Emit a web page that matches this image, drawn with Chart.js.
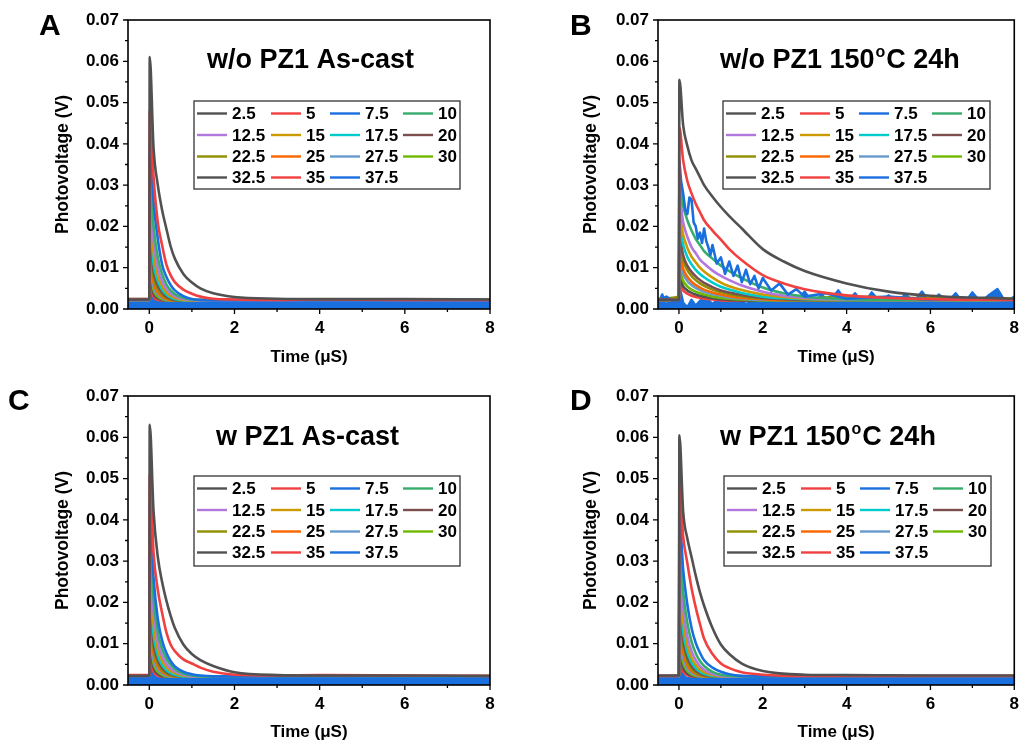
<!DOCTYPE html>
<html>
<head>
<meta charset="utf-8">
<script src="https://cdn.jsdelivr.net/npm/chart.js@4.4.1/dist/chart.umd.min.js"></script>
<style>
  body { margin: 0; background: #fff; }
  #wrap { position: relative; width: 1028px; height: 746px; overflow: hidden; }
  canvas { position: absolute; }
</style>
</head>
<body>
<div id="wrap">
  <canvas id="cA" width="514" height="373" style="left:0;top:0"></canvas>
  <canvas id="cB" width="514" height="373" style="left:514px;top:0"></canvas>
  <canvas id="cC" width="514" height="373" style="left:0;top:373px"></canvas>
  <canvas id="cD" width="514" height="373" style="left:514px;top:373px"></canvas>
</div>
<script>
'use strict';

// ---- data ----
const seriesNames = ['2.5', '5', '7.5', '10', '12.5', '15', '17.5', '20', '22.5', '25', '27.5', '30', '32.5', '35', '37.5'];
const xTicks = [0, 2, 4, 6, 8];
const xMinor = [1, 3, 5, 7];
const yTicks = [0, 0.01, 0.02, 0.03, 0.04, 0.05, 0.06, 0.07];
const yMinor = [0.005, 0.015, 0.025, 0.035, 0.045, 0.055, 0.065];

// time samples (µs) for the fast panels A, C, D
const timeFast = [-0.5, 0, 0.01, 0.1, 0.2, 0.3, 0.4, 0.5, 0.6, 0.8, 1.0, 1.2, 1.5, 2, 3, 4, 6, 8];
// time samples for the slower panel B
const timeSlow = [-0.5, 0, 0.01, 0.1, 0.2, 0.3, 0.4, 0.5, 0.6, 0.8, 1.0, 1.2, 1.5, 2, 2.5, 3, 4, 5, 6, 8];
// noisy traces in panel B have their own samples
const timeB75 = [-0.5, -0.3, -0.1, 0, 0.01, 0.05, 0.1, 0.15, 0.2, 0.25, 0.3, 0.35, 0.4, 0.45, 0.5, 0.55, 0.6, 0.65, 0.7, 0.75, 0.8, 0.9, 1.0, 1.1, 1.2, 1.3, 1.4, 1.5, 1.6, 1.7, 1.8, 1.9, 2.0, 2.2, 2.4, 2.6, 2.8, 3.0, 3.5, 4, 5, 6, 7, 8];
const timeB375 = [-0.5, -0.4, -0.3, -0.2, -0.1, 0, 0.02, 0.1, 0.2, 0.3, 0.4, 0.6, 0.8, 1.0, 1.2, 1.4, 1.6, 1.8, 2.0, 2.2, 2.4, 2.6, 2.8, 3.0, 3.2, 3.4, 3.6, 3.8, 4.0, 4.2, 4.4, 4.6, 4.8, 5.0, 5.2, 5.4, 5.6, 5.8, 6.0, 6.2, 6.4, 6.6, 6.8, 7.0, 7.2, 7.4, 7.6, 7.8, 8.0];

// A: w/o PZ1 As-cast
const valuesA = [
  [0.0023, 0.0023, 0.061, 0.039, 0.030, 0.024, 0.0195, 0.0152, 0.0122, 0.0085, 0.0064, 0.0050, 0.0038, 0.0029, 0.0025, 0.0024, 0.0024, 0.0023],
  [0.0024, 0.0024, 0.048, 0.032, 0.021, 0.0155, 0.0108, 0.0082, 0.0065, 0.0047, 0.0037, 0.0030, 0.0025, 0.0023, 0.0022, 0.0023, 0.0022, 0.0022],
  [0.0022, 0.0022, 0.040, 0.026, 0.017, 0.0108, 0.0078, 0.0058, 0.0045, 0.0031, 0.0024, 0.0022, 0.0021, 0.0021, 0.0021, 0.0021, 0.0021, 0.0021],
  [0.0024, 0.0024, 0.033, 0.020, 0.0125, 0.0085, 0.0060, 0.0045, 0.0036, 0.0027, 0.0023, 0.0022, 0.0022, 0.0023, 0.0023, 0.0023, 0.0023, 0.0023],
  [0.0022, 0.0022, 0.029, 0.0165, 0.0100, 0.0068, 0.0049, 0.0038, 0.0031, 0.0024, 0.0022, 0.0021, 0.0021, 0.0021, 0.0021, 0.0021, 0.0021, 0.0021],
  [0.0022, 0.0022, 0.025, 0.0135, 0.0082, 0.0056, 0.0041, 0.0032, 0.0027, 0.0022, 0.0021, 0.0021, 0.0021, 0.0021, 0.0021, 0.0021, 0.0021, 0.0021],
  [0.0022, 0.0022, 0.022, 0.0110, 0.0068, 0.0047, 0.0035, 0.0028, 0.0024, 0.0021, 0.0021, 0.0021, 0.0021, 0.0021, 0.0021, 0.0021, 0.0021, 0.0021],
  [0.0022, 0.0022, 0.019, 0.0092, 0.0057, 0.0040, 0.0030, 0.0025, 0.0022, 0.0021, 0.0021, 0.0021, 0.0021, 0.0021, 0.0021, 0.0021, 0.0021, 0.0021],
  [0.0022, 0.0022, 0.017, 0.0078, 0.0048, 0.0034, 0.0027, 0.0023, 0.0021, 0.0021, 0.0021, 0.0021, 0.0021, 0.0021, 0.0021, 0.0021, 0.0021, 0.0021],
  [0.0022, 0.0022, 0.014, 0.0064, 0.0040, 0.0030, 0.0024, 0.0021, 0.0021, 0.0021, 0.0021, 0.0021, 0.0021, 0.0021, 0.0021, 0.0021, 0.0021, 0.0021],
  [0.0022, 0.0022, 0.0125, 0.0055, 0.0035, 0.0027, 0.0022, 0.0021, 0.0021, 0.0021, 0.0021, 0.0021, 0.0021, 0.0021, 0.0021, 0.0021, 0.0021, 0.0021],
  [0.0022, 0.0022, 0.0105, 0.0046, 0.0030, 0.0024, 0.0021, 0.0021, 0.0021, 0.0021, 0.0021, 0.0021, 0.0021, 0.0021, 0.0021, 0.0021, 0.0021, 0.0021],
  [0.0022, 0.0022, 0.0085, 0.0038, 0.0026, 0.0022, 0.0021, 0.0021, 0.0021, 0.0021, 0.0021, 0.0021, 0.0021, 0.0021, 0.0021, 0.0021, 0.0021, 0.0021],
  [0.0022, 0.0022, 0.0065, 0.0030, 0.0022, 0.0021, 0.0021, 0.0021, 0.0021, 0.0021, 0.0021, 0.0021, 0.0021, 0.0021, 0.0021, 0.0021, 0.0021, 0.0021],
  [0.0020, 0.0020, 0.0048, 0.0025, 0.0020, 0.0020, 0.0020, 0.0020, 0.0020, 0.0020, 0.0020, 0.0020, 0.0020, 0.0020, 0.0020, 0.0020, 0.0020, 0.0020]
];

// B: w/o PZ1 150oC 24h (series 7.5 and 37.5 listed separately below)
const valuesB = [
  [0.0022, 0.0022, 0.0555, 0.0445, 0.0395, 0.0360, 0.0340, 0.0320, 0.0300, 0.0272, 0.0247, 0.0225, 0.0195, 0.0145, 0.0115, 0.0092, 0.0062, 0.0042, 0.0032, 0.0025],
  [0.0022, 0.0022, 0.044, 0.036, 0.031, 0.028, 0.0255, 0.0235, 0.0215, 0.019, 0.0168, 0.0145, 0.0118, 0.0082, 0.0062, 0.0048, 0.0033, 0.0027, 0.0024, 0.0022],
  null,
  [0.0022, 0.0022, 0.0305, 0.025, 0.0215, 0.019, 0.017, 0.0155, 0.014, 0.0122, 0.0105, 0.0092, 0.0075, 0.0052, 0.0038, 0.0030, 0.0024, 0.0022, 0.0022, 0.0022],
  [0.0022, 0.0022, 0.027, 0.021, 0.0175, 0.015, 0.0135, 0.012, 0.011, 0.0093, 0.008, 0.007, 0.0057, 0.0042, 0.0032, 0.0027, 0.0023, 0.0022, 0.0022, 0.0022],
  [0.0022, 0.0022, 0.023, 0.018, 0.0148, 0.0127, 0.0113, 0.010, 0.0091, 0.0076, 0.0064, 0.0055, 0.0046, 0.0035, 0.0029, 0.0025, 0.0023, 0.0022, 0.0022, 0.0022],
  [0.0022, 0.0022, 0.020, 0.0155, 0.0126, 0.0108, 0.0095, 0.0085, 0.0077, 0.0064, 0.0054, 0.0047, 0.0039, 0.0030, 0.0026, 0.0024, 0.0022, 0.0022, 0.0022, 0.0022],
  [0.0022, 0.0022, 0.0175, 0.013, 0.0105, 0.009, 0.0079, 0.007, 0.0063, 0.0053, 0.0045, 0.004, 0.0034, 0.0027, 0.0024, 0.0022, 0.0022, 0.0022, 0.0022, 0.0022],
  [0.0025, 0.0030, 0.016, 0.0118, 0.0094, 0.008, 0.007, 0.0062, 0.0056, 0.0047, 0.0041, 0.0036, 0.0031, 0.0026, 0.0028, 0.0025, 0.0030, 0.0028, 0.0026, 0.0025],
  [0.0022, 0.0022, 0.0135, 0.0098, 0.0078, 0.0066, 0.0058, 0.0052, 0.0047, 0.004, 0.0035, 0.0031, 0.0027, 0.0024, 0.0022, 0.0022, 0.0022, 0.0022, 0.0022, 0.0022],
  [0.0022, 0.0022, 0.012, 0.0086, 0.0068, 0.0058, 0.0051, 0.0046, 0.0042, 0.0036, 0.0032, 0.0028, 0.0025, 0.0022, 0.0022, 0.0022, 0.0022, 0.0022, 0.0022, 0.0022],
  [0.0022, 0.0022, 0.0095, 0.0068, 0.0055, 0.0047, 0.0042, 0.0038, 0.0035, 0.003, 0.0027, 0.0025, 0.0023, 0.0021, 0.0021, 0.0021, 0.0021, 0.0021, 0.0021, 0.0021],
  [0.0021, 0.0021, 0.0075, 0.0055, 0.0045, 0.0039, 0.0035, 0.0032, 0.003, 0.0026, 0.0024, 0.0022, 0.0021, 0.002, 0.002, 0.002, 0.002, 0.002, 0.002, 0.002],
  [0.0021, 0.0021, 0.0062, 0.0045, 0.0037, 0.0032, 0.0029, 0.0027, 0.0025, 0.0023, 0.0021, 0.002, 0.002, 0.002, 0.002, 0.002, 0.002, 0.002, 0.002, 0.002],
  null
];
const valuesB75 = [0.002, 0.003, 0.0015, 0.002, 0.036, 0.031, 0.028, 0.024, 0.023, 0.027, 0.0265, 0.021, 0.020, 0.017, 0.0185, 0.016, 0.0195, 0.0165, 0.015, 0.013, 0.0155, 0.011, 0.0125, 0.0085, 0.0115, 0.008, 0.0105, 0.0065, 0.0095, 0.006, 0.008, 0.005, 0.0075, 0.0045, 0.0062, 0.0035, 0.0048, 0.003, 0.0038, 0.0025, 0.003, 0.0022, 0.0025, 0.002];
const valuesB375 = [0.001, 0.0035, 0.0008, 0.0025, 0.0012, 0.0015, 0.005, 0.0015, 0.0004, 0.0022, 0.0008, 0.003, 0.0012, 0.0028, 0.0015, 0.0035, 0.001, 0.0032, 0.0014, 0.0038, 0.0012, 0.003, 0.0016, 0.0042, 0.0012, 0.0034, 0.0018, 0.0045, 0.0015, 0.0038, 0.0012, 0.004, 0.0016, 0.0033, 0.0012, 0.0036, 0.0017, 0.0042, 0.0013, 0.0035, 0.0015, 0.0038, 0.0012, 0.004, 0.0016, 0.0034, 0.0048, 0.0015, 0.003];

// C: w PZ1 As-cast
const valuesC = [
  [0.0022, 0.0022, 0.063, 0.042, 0.031, 0.025, 0.0205, 0.0168, 0.0138, 0.0098, 0.0075, 0.0060, 0.0046, 0.0031, 0.0024, 0.0023, 0.0023, 0.0022],
  [0.0024, 0.0024, 0.051, 0.032, 0.023, 0.0175, 0.0128, 0.0098, 0.0082, 0.0062, 0.0052, 0.0042, 0.0032, 0.0025, 0.0023, 0.0024, 0.0023, 0.0022],
  [0.0021, 0.0021, 0.044, 0.026, 0.016, 0.0108, 0.0078, 0.0058, 0.0045, 0.0032, 0.0026, 0.0023, 0.0021, 0.0021, 0.0021, 0.0021, 0.0021, 0.0021],
  [0.0022, 0.0022, 0.0365, 0.021, 0.0128, 0.0088, 0.0064, 0.0049, 0.0039, 0.0028, 0.0023, 0.0021, 0.0021, 0.0021, 0.0021, 0.0021, 0.0021, 0.0021],
  [0.0021, 0.0021, 0.032, 0.0175, 0.0105, 0.0071, 0.0052, 0.0040, 0.0033, 0.0025, 0.0021, 0.0021, 0.0021, 0.0021, 0.0021, 0.0021, 0.0021, 0.0021],
  [0.0021, 0.0021, 0.0275, 0.0145, 0.0087, 0.0059, 0.0044, 0.0034, 0.0029, 0.0023, 0.0021, 0.0021, 0.0021, 0.0021, 0.0021, 0.0021, 0.0021, 0.0021],
  [0.0021, 0.0021, 0.024, 0.0122, 0.0072, 0.0049, 0.0036, 0.0029, 0.0025, 0.0021, 0.0021, 0.0021, 0.0021, 0.0021, 0.0021, 0.0021, 0.0021, 0.0021],
  [0.0021, 0.0021, 0.0215, 0.0103, 0.0061, 0.0042, 0.0032, 0.0026, 0.0023, 0.0021, 0.0021, 0.0021, 0.0021, 0.0021, 0.0021, 0.0021, 0.0021, 0.0021],
  [0.0021, 0.0021, 0.019, 0.0088, 0.0052, 0.0036, 0.0028, 0.0024, 0.0021, 0.0021, 0.0021, 0.0021, 0.0021, 0.0021, 0.0021, 0.0021, 0.0021, 0.0021],
  [0.0021, 0.0021, 0.0165, 0.0075, 0.0045, 0.0032, 0.0026, 0.0022, 0.0021, 0.0021, 0.0021, 0.0021, 0.0021, 0.0021, 0.0021, 0.0021, 0.0021, 0.0021],
  [0.0021, 0.0021, 0.0138, 0.0062, 0.0038, 0.0028, 0.0023, 0.0021, 0.0021, 0.0021, 0.0021, 0.0021, 0.0021, 0.0021, 0.0021, 0.0021, 0.0021, 0.0021],
  [0.0021, 0.0021, 0.0115, 0.0052, 0.0032, 0.0025, 0.0021, 0.0021, 0.0021, 0.0021, 0.0021, 0.0021, 0.0021, 0.0021, 0.0021, 0.0021, 0.0021, 0.0021],
  [0.0021, 0.0021, 0.0090, 0.0042, 0.0027, 0.0022, 0.0021, 0.0021, 0.0021, 0.0021, 0.0021, 0.0021, 0.0021, 0.0021, 0.0021, 0.0021, 0.0021, 0.0021],
  [0.0021, 0.0021, 0.0068, 0.0032, 0.0023, 0.0021, 0.0021, 0.0021, 0.0021, 0.0021, 0.0021, 0.0021, 0.0021, 0.0021, 0.0021, 0.0021, 0.0021, 0.0021],
  [0.0017, 0.0017, 0.0050, 0.0025, 0.0017, 0.0017, 0.0017, 0.0017, 0.0017, 0.0017, 0.0017, 0.0017, 0.0017, 0.0017, 0.0017, 0.0017, 0.0017, 0.0017]
];

// D: w PZ1 150oC 24h
const valuesD = [
  [0.0023, 0.0023, 0.0605, 0.042, 0.0355, 0.031, 0.0265, 0.0225, 0.0192, 0.0138, 0.0098, 0.0075, 0.0052, 0.0034, 0.0025, 0.0024, 0.0023, 0.0023],
  [0.0022, 0.0022, 0.0485, 0.036, 0.0295, 0.0235, 0.0188, 0.0148, 0.0112, 0.0075, 0.0052, 0.0041, 0.0031, 0.0025, 0.0022, 0.0022, 0.0022, 0.0022],
  [0.0021, 0.0021, 0.041, 0.028, 0.0195, 0.0138, 0.0102, 0.0078, 0.0060, 0.0042, 0.0032, 0.0026, 0.0022, 0.0021, 0.0021, 0.0021, 0.0021, 0.0021],
  [0.0021, 0.0021, 0.0345, 0.0225, 0.015, 0.0105, 0.0077, 0.0058, 0.0046, 0.0032, 0.0025, 0.0022, 0.0021, 0.0021, 0.0021, 0.0021, 0.0021, 0.0021],
  [0.0021, 0.0021, 0.0295, 0.0185, 0.0118, 0.0082, 0.0060, 0.0046, 0.0037, 0.0027, 0.0022, 0.0021, 0.0021, 0.0021, 0.0021, 0.0021, 0.0021, 0.0021],
  [0.0021, 0.0021, 0.0265, 0.0155, 0.0097, 0.0066, 0.0049, 0.0038, 0.0031, 0.0024, 0.0021, 0.0021, 0.0021, 0.0021, 0.0021, 0.0021, 0.0021, 0.0021],
  [0.0021, 0.0021, 0.0235, 0.0130, 0.0080, 0.0055, 0.0041, 0.0032, 0.0027, 0.0022, 0.0021, 0.0021, 0.0021, 0.0021, 0.0021, 0.0021, 0.0021, 0.0021],
  [0.0021, 0.0021, 0.0205, 0.0110, 0.0067, 0.0046, 0.0035, 0.0028, 0.0024, 0.0021, 0.0021, 0.0021, 0.0021, 0.0021, 0.0021, 0.0021, 0.0021, 0.0021],
  [0.0021, 0.0021, 0.0185, 0.0095, 0.0057, 0.0040, 0.0030, 0.0025, 0.0022, 0.0021, 0.0021, 0.0021, 0.0021, 0.0021, 0.0021, 0.0021, 0.0021, 0.0021],
  [0.0021, 0.0021, 0.016, 0.008, 0.0048, 0.0034, 0.0027, 0.0023, 0.0021, 0.0021, 0.0021, 0.0021, 0.0021, 0.0021, 0.0021, 0.0021, 0.0021, 0.0021],
  [0.0021, 0.0021, 0.0135, 0.0066, 0.0040, 0.0029, 0.0024, 0.0021, 0.0021, 0.0021, 0.0021, 0.0021, 0.0021, 0.0021, 0.0021, 0.0021, 0.0021, 0.0021],
  [0.0021, 0.0021, 0.011, 0.0054, 0.0034, 0.0026, 0.0022, 0.0021, 0.0021, 0.0021, 0.0021, 0.0021, 0.0021, 0.0021, 0.0021, 0.0021, 0.0021, 0.0021],
  [0.0021, 0.0021, 0.0085, 0.0042, 0.0028, 0.0023, 0.0021, 0.0021, 0.0021, 0.0021, 0.0021, 0.0021, 0.0021, 0.0021, 0.0021, 0.0021, 0.0021, 0.0021],
  [0.0021, 0.0021, 0.0068, 0.0033, 0.0024, 0.0021, 0.0021, 0.0021, 0.0021, 0.0021, 0.0021, 0.0021, 0.0021, 0.0021, 0.0021, 0.0021, 0.0021, 0.0021],
  [0.0017, 0.0017, 0.0052, 0.0026, 0.0017, 0.0017, 0.0017, 0.0017, 0.0017, 0.0017, 0.0017, 0.0017, 0.0017, 0.0017, 0.0017, 0.0017, 0.0017, 0.0017]
];

// titles: odd parts are superscripts
const titleA = ['w/o PZ1 As-cast'];
const titleB = ['w/o PZ1 150', 'o', 'C 24h'];
const titleC = ['w PZ1 As-cast'];
const titleD = ['w PZ1 150', 'o', 'C 24h'];

// ---- styles ----
const FONT = '"Liberation Sans", Arial, sans-serif';
const lineColors = ['#515151', '#F14040', '#1A6FDF', '#37AD6B', '#B177DE', '#CC9900', '#00CBCC', '#7D4E4E',
  '#8E8E00', '#FB6501', '#6699CC', '#6FB802', '#515151', '#F14040', '#1A6FDF'];
const legendLineX = [3, 77, 136, 209];
const legendTextX = [38, 112, 171, 244];
const legendRowY = [12.5, 34, 55.5, 76.5];

Chart.defaults.color = '#000';
Chart.defaults.font.family = FONT;

const decor = {
  id: 'decor',
  afterDraw(chart, args, o) {
    const { ctx, chartArea: a } = chart;
    const x = chart.scales.x, y = chart.scales.y;
    ctx.save();
    // frame
    ctx.strokeStyle = '#000';
    ctx.lineWidth = 1.6;
    ctx.strokeRect(a.left, a.top, a.right - a.left, a.bottom - a.top);
    // tick marks, outward
    ctx.lineWidth = 1.3;
    ctx.beginPath();
    xTicks.forEach(v => { const p = x.getPixelForValue(v); ctx.moveTo(p, a.bottom); ctx.lineTo(p, a.bottom + 5); });
    xMinor.forEach(v => { const p = x.getPixelForValue(v); ctx.moveTo(p, a.bottom); ctx.lineTo(p, a.bottom + 3); });
    yTicks.forEach(v => { const p = y.getPixelForValue(v); ctx.moveTo(a.left, p); ctx.lineTo(a.left - 5, p); });
    yMinor.forEach(v => { const p = y.getPixelForValue(v); ctx.moveTo(a.left, p); ctx.lineTo(a.left - 3, p); });
    ctx.stroke();

    ctx.fillStyle = '#000';
    ctx.textBaseline = 'alphabetic';
    ctx.textAlign = 'left';
    // panel letter
    ctx.font = `bold 30px ${FONT}`;
    ctx.fillText(o.letter, o.letterX, o.letterY);
    // title
    let tx = o.titleX;
    o.title.forEach((part, k) => {
      if (k % 2) {
        ctx.font = `bold 16px ${FONT}`;
        ctx.fillText(part, tx + 1, o.titleY - 11);
        tx += ctx.measureText(part).width + 2;
      } else {
        ctx.font = `bold 27px ${FONT}`;
        ctx.fillText(part, tx, o.titleY);
        tx += ctx.measureText(part).width;
      }
    });
    // legend
    const L = o.legend;
    ctx.fillStyle = '#fff';
    ctx.fillRect(L.x, L.y, L.w, L.h);
    ctx.strokeStyle = '#333';
    ctx.lineWidth = 1.3;
    ctx.strokeRect(L.x, L.y, L.w, L.h);
    ctx.font = `bold 17px ${FONT}`;
    ctx.textBaseline = 'middle';
    chart.data.datasets.forEach((ds, i) => {
      const row = Math.floor(i / 4), col = i % 4;
      const ly = L.y + legendRowY[row];
      ctx.strokeStyle = ds.borderColor;
      ctx.lineWidth = 2.4;
      ctx.beginPath();
      ctx.moveTo(L.x + legendLineX[col], ly);
      ctx.lineTo(L.x + legendLineX[col] + 30, ly);
      ctx.stroke();
      ctx.fillStyle = '#000';
      ctx.fillText(ds.label, L.x + legendTextX[col], ly + 1);
    });
    ctx.restore();
  }
};

function makePanel(id, values, times, ownSeries, geo, letter, title) {
  const datasets = seriesNames.map((name, i) => {
    const own = ownSeries[i];
    const t = own ? own.t : times;
    const v = own ? own.v : values[i];
    return {
      label: name,
      data: t.map((tt, k) => ({ x: tt, y: v[k] })),
      borderColor: lineColors[i],
      backgroundColor: lineColors[i],
      borderWidth: 2.6,
      borderJoinStyle: 'round',
      pointRadius: 0,
      // noisy traces are joined point to point, smooth decays use monotone curves
      cubicInterpolationMode: own ? 'default' : 'monotone',
      tension: 0,
      fill: i === seriesNames.length - 1 ? 'origin' : false
    };
  });

  const tickFont = { family: FONT, size: 17, weight: 'bold' };
  new Chart(document.getElementById(id), {
    type: 'line',
    data: { datasets },
    options: {
      responsive: false,
      animation: false,
      devicePixelRatio: 1,
      layout: { padding: { left: geo.pl, top: geo.pt, right: geo.pr, bottom: geo.pb } },
      plugins: {
        legend: { display: false },
        tooltip: { enabled: false },
        decor: { letter, title, ...geo.decor }
      },
      scales: {
        x: {
          type: 'linear',
          min: -0.5,
          max: 8,
          afterBuildTicks: s => { s.ticks = xTicks.map(v => ({ value: v })); },
          afterFit: s => { s.height = geo.xh; },
          grid: { display: false, drawTicks: false },
          border: { display: false },
          ticks: { font: tickFont, padding: 9, maxRotation: 0 },
          title: { display: true, text: 'Time (μS)', font: tickFont, padding: 0 }
        },
        y: {
          min: 0,
          max: 0.07,
          afterBuildTicks: s => { s.ticks = yTicks.map(v => ({ value: v })); },
          afterFit: s => { s.width = geo.yw; },
          grid: { display: false, drawTicks: false },
          border: { display: false },
          ticks: { font: tickFont, padding: 9, callback: v => v.toFixed(2) },
          title: { display: true, text: 'Photovoltage (V)', font: { family: FONT, size: 17.5, weight: 'bold' }, padding: 0 }
        }
      }
    },
    plugins: [decor]
  });
}

makePanel('cA', valuesA, timeFast, {},
  { pl: 53, yw: 75, pt: 20, pr: 24, pb: 5, xh: 59,
    decor: { letterX: 39, letterY: 35, titleX: 207, titleY: 68, legend: { x: 194, y: 101, w: 266, h: 88 } } },
  'A', titleA);

makePanel('cB', valuesB, timeSlow, { 2: { t: timeB75, v: valuesB75 }, 14: { t: timeB375, v: valuesB375 } },
  { pl: 67, yw: 77, pt: 20, pr: 7, pb: 5, xh: 59,
    decor: { letterX: 56, letterY: 35, titleX: 206, titleY: 68, legend: { x: 209, y: 101, w: 267, h: 88 } } },
  'B', titleB);

makePanel('cC', valuesC, timeFast, {},
  { pl: 53, yw: 75, pt: 23, pr: 24, pb: 3, xh: 58,
    decor: { letterX: 8, letterY: 37, titleX: 216, titleY: 72, legend: { x: 194, y: 103, w: 266, h: 90 } } },
  'C', titleC);

makePanel('cD', valuesD, timeFast, {},
  { pl: 67, yw: 77, pt: 23, pr: 7, pb: 3, xh: 58,
    decor: { letterX: 56, letterY: 37, titleX: 206, titleY: 72, legend: { x: 210, y: 103, w: 267, h: 90 } } },
  'D', titleD);
</script>
</body>
</html>
